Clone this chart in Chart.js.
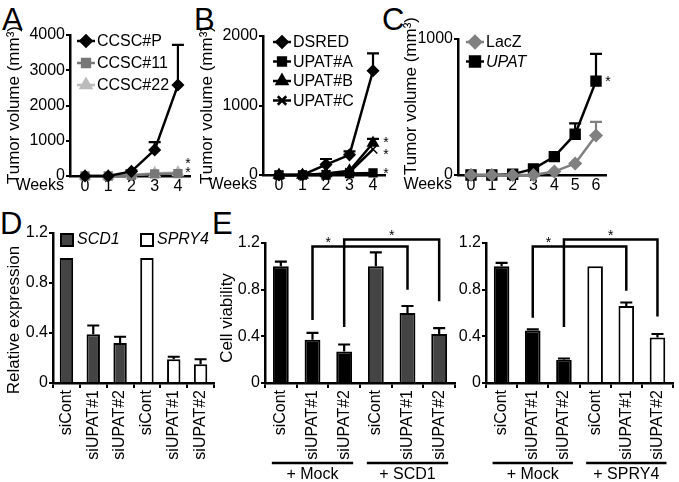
<!DOCTYPE html>
<html>
<head>
<meta charset="utf-8">
<script src="https://cdn.jsdelivr.net/npm/chart.js@4.4.0/dist/chart.umd.min.js"></script>
<style>
  body { margin: 0; background: #fff; width: 679px; height: 482px; overflow: hidden; position: relative;
         font-family: "Liberation Sans", Arial, sans-serif; }
  canvas { position: absolute; left: 0; top: 0; }
  .panel { position: absolute; font-size: 31px; line-height: 31px; color: #000; }
</style>
</head>
<body>
<div class="panel" style="left:2px;top:4px">A</div>
<div class="panel" style="left:194px;top:4px">B</div>
<div class="panel" style="left:382px;top:4px">C</div>
<div class="panel" style="left:0px;top:208px">D</div>
<div class="panel" style="left:212px;top:208px">E</div>
<canvas id="cA" width="679" height="482"></canvas>
<canvas id="cB" width="679" height="482"></canvas>
<canvas id="cC" width="679" height="482"></canvas>
<canvas id="cD" width="679" height="482"></canvas>
<canvas id="cE1" width="679" height="482"></canvas>
<canvas id="cE2" width="679" height="482"></canvas>
<script>
/* --------------- Data --------------------- */
// A: CCSC xenografts
const weeksA = [0, 1, 2, 3, 4];
const ccscP = [0, 0, 130, 740, 2580];
const ccscPErr = [0, 0, 30, 220, 1140];
const ccsc11 = [0, 0, 20, 60, 70];
const ccsc22 = [0, 0, 30, 80, 100];
// B: UPAT knockdown
const weeksB = [0, 1, 2, 3, 4];
const dsred = [0, 0, 150, 290, 1500];
const dsredErr = [0, 0, 80, 50, 250];
const upatA = [0, 0, 0, 20, 30];
const upatB = [0, 0, 20, 60, 460];
const upatBErr = [0, 0, 0, 0, 60];
const upatC = [0, 0, 10, 40, 370];
// C: UPAT overexpression
const weeksC = [0, 1, 2, 3, 4, 5, 6];
const lacZ = [0, 0, 0, 0, 25, 85, 290];
const lacZErr = [0, 0, 0, 0, 0, 0, 100];
const upat = [0, 0, 5, 45, 135, 300, 690];
const upatErr = [0, 0, 0, 0, 0, 80, 200];
// D: relative expression
const siLabels = ["siCont", "siUPAT#1", "siUPAT#2", "siCont", "siUPAT#1", "siUPAT#2"];
const scd1Expr = [1.0, 0.39, 0.32, null, null, null];
const scd1ExprErr = [0, 0.07, 0.05, 0, 0, 0];
const spry4Expr = [null, null, null, 1.0, 0.19, 0.15];
const spry4ExprErr = [0, 0, 0, 0, 0.02, 0.04];
// E: cell viability
const mockE1 = [1.0, 0.37, 0.27, null, null, null];
const mockE1Err = [0.04, 0.06, 0.06, 0, 0, 0];
const scd1Rescue = [null, null, null, 1.0, 0.60, 0.42];
const scd1RescueErr = [0, 0, 0, 0.12, 0.06, 0.05];
const mockE2 = [1.0, 0.45, 0.20, null, null, null];
const mockE2Err = [0.03, 0.01, 0.01, 0, 0, 0];
const spry4Rescue = [null, null, null, 1.0, 0.66, 0.39];
const spry4RescueErr = [0, 0, 0, 0, 0.03, 0.03];

/* --------------- Defaults --------------------- */
const FONT = '"Liberation Sans", Arial, sans-serif';
const W = 679, H = 482;
Chart.defaults.font.family = FONT;
Chart.defaults.font.size = 16;
Chart.defaults.color = "#000";
Chart.defaults.animation = false;
Chart.defaults.responsive = false;
Chart.defaults.plugins.legend.display = false;
Chart.defaults.plugins.tooltip.enabled = false;

// put the plot area exactly on box {l,t,r,b}
function frame(box, yw, xh) {
  return { padding: { left: box.l - yw, right: W - box.r, top: box.t, bottom: H - box.b - xh } };
}

function vText(ctx, txt, x, y, size) {
  ctx.save();
  ctx.translate(x, y);
  ctx.rotate(-Math.PI / 2);
  ctx.font = size + "px " + FONT;
  ctx.fillStyle = "#000";
  ctx.textAlign = "center";
  ctx.textBaseline = "middle";
  ctx.fillText(txt, 0, 0);
  ctx.restore();
}

function text(ctx, txt, x, y, size, align, style) {
  ctx.save();
  ctx.font = (style || "") + " " + size + "px " + FONT;
  ctx.fillStyle = "#000";
  ctx.textAlign = align || "left";
  ctx.textBaseline = "middle";
  ctx.fillText(txt, x, y);
  ctx.restore();
}

/* --------------- Error bars --------------------- */
const errorBars = {
  id: "errorBars",
  beforeDatasetsDraw(chart) {
    const ctx = chart.ctx;
    const ys = chart.scales.y;
    chart.data.datasets.forEach((ds, i) => {
      if (!ds.errors) return;
      chart.getDatasetMeta(i).data.forEach((el, j) => {
        let v = ds.data[j];
        const e = ds.errors[j];
        if (v == null || !e) return;
        if (typeof v === "object") v = v.y;
        const top = ys.getPixelForValue(v + e);
        const cap = ds.capHalf || 6;
        ctx.save();
        ctx.strokeStyle = ds.errColor || ds.borderColor;
        ctx.lineWidth = 2.2;
        ctx.beginPath();
        ctx.moveTo(el.x, el.y);
        ctx.lineTo(el.x, top);
        ctx.moveTo(el.x - cap, top);
        ctx.lineTo(el.x + cap, top);
        ctx.stroke();
        ctx.restore();
      });
    });
  }
};

/* --------------- Line charts (A, B, C) --------------------- */
function lineScales(xMin, xMax, ticksX, yMax, yStep) {
  return {
    x: {
      type: "linear", min: xMin, max: xMax,
      afterBuildTicks: (s) => { s.ticks = ticksX.map((v) => ({ value: v })); },
      afterFit: (s) => { s.height = 24; },
      grid: { display: false, drawTicks: false },
      border: { color: "#000", width: 2.5 },
      ticks: { padding: 1, font: { size: 16 } }
    },
    y: {
      min: 0, max: yMax,
      afterFit: (s) => { s.width = 45; },
      ticks: { stepSize: yStep, padding: 1, font: { size: 16 }, callback: (v) => String(v) },
      grid: { drawOnChartArea: false, color: "#000", lineWidth: 2, tickLength: 4 },
      border: { color: "#000", width: 2.5 }
    }
  };
}

function lineSet(label, data, color, style, radius, errors) {
  return {
    label: label, data: data, borderColor: color, backgroundColor: color,
    pointStyle: style, pointRadius: radius, pointBorderWidth: 1.5,
    borderWidth: 2.5, tension: 0, clip: false, errors: errors, capHalf: 6
  };
}

function lineDeco(opts) {
  return {
    id: "deco",
    afterDraw(chart) {
      const ctx = chart.ctx;
      const xs = chart.scales.x, ys = chart.scales.y;
      const area = chart.chartArea;
      // legend
      chart.data.datasets.forEach((ds, i) => {
        const y = opts.legY + i * opts.legStep;
        const x0 = area.left + opts.legX;
        ctx.save();
        ctx.strokeStyle = ds.borderColor;
        ctx.lineWidth = 2.5;
        ctx.beginPath();
        ctx.moveTo(x0, y);
        ctx.lineTo(x0 + 18, y);
        ctx.stroke();
        ctx.fillStyle = ds.backgroundColor;
        Chart.helpers.drawPoint(ctx, { pointStyle: ds.pointStyle, radius: ds.pointRadius, rotation: 0, borderWidth: 1.5 }, x0 + 9, y);
        ctx.restore();
        text(ctx, ds.label, x0 + 20, y + 1, 16, "left", opts.italic && opts.italic[i] ? "italic" : "");
      });
      // axis titles
      vText(ctx, "Tumor volume (mm\u00B3)", opts.titleX, opts.titleY, 17);
      text(ctx, "Weeks", area.left - 6, area.bottom + 10, 16, "right");
      // significance stars
      opts.stars.forEach(([di, pi, dx, dy]) => {
        const v = chart.data.datasets[di].data[pi].y;
        const x = xs.getPixelForValue(pi) + dx;
        const y = ys.getPixelForValue(v) + dy;
        text(ctx, "*", x, y, 14, "center");
      });
    }
  };
}

const boxA = { l: 70, t: 35, r: 190, b: 176 };
new Chart(document.getElementById("cA"), {
  type: "line",
  data: {
    labels: weeksA,
    datasets: [
      lineSet("CCSC#P", weeksA.map((w, i) => ({ x: w, y: ccscP[i] })), "#000", "rectRot", 5.5, ccscPErr),
      lineSet("CCSC#11", weeksA.map((w, i) => ({ x: w, y: ccsc11[i] })), "#777", "rect", 5.5),
      lineSet("CCSC#22", weeksA.map((w, i) => ({ x: w, y: ccsc22[i] })), "#bbb", "triangle", 6)
    ]
  },
  options: {
    layout: frame(boxA, 45, 24),
    parsing: false,
    scales: lineScales(-0.645, 4.52, weeksA, 4000, 1000)
  },
  plugins: [errorBars, lineDeco({ legX: 7, legY: 41, legStep: 22, titleX: 14, titleY: 105, stars: [[2, 4, 10, -8], [1, 4, 10, 0]] })]
});

const boxB = { l: 263, t: 36, r: 385, b: 175 };
new Chart(document.getElementById("cB"), {
  type: "line",
  data: {
    labels: weeksB,
    datasets: [
      lineSet("DSRED", weeksB.map((w, i) => ({ x: w, y: dsred[i] })), "#000", "rectRot", 5.5, dsredErr),
      lineSet("UPAT#A", weeksB.map((w, i) => ({ x: w, y: upatA[i] })), "#000", "rect", 5.5),
      lineSet("UPAT#B", weeksB.map((w, i) => ({ x: w, y: upatB[i] })), "#000", "triangle", 6, upatBErr),
      lineSet("UPAT#C", weeksB.map((w, i) => ({ x: w, y: upatC[i] })), "#000", "crossRot", 6)
    ]
  },
  options: {
    layout: frame(boxB, 45, 24),
    parsing: false,
    scales: lineScales(-0.68, 4.51, weeksB, 2000, 1000)
  },
  plugins: [errorBars, lineDeco({ legX: 10, legY: 42, legStep: 19.5, titleX: 207, titleY: 105, stars: [[2, 4, 13, 0], [3, 4, 13, 6], [1, 4, 13, 1]] })]
});

const boxC = { l: 458, t: 39, r: 606, b: 175 };
new Chart(document.getElementById("cC"), {
  type: "line",
  data: {
    labels: weeksC,
    datasets: [
      lineSet("LacZ", weeksC.map((w, i) => ({ x: w, y: lacZ[i] })), "#808080", "rectRot", 6, lacZErr),
      lineSet("UPAT", weeksC.map((w, i) => ({ x: w, y: upat[i] })), "#000", "rect", 7, upatErr)
    ]
  },
  options: {
    layout: frame(boxC, 45, 24),
    parsing: false,
    scales: lineScales(-0.624, 6.48, weeksC, 1000, 1000)
  },
  plugins: [errorBars, lineDeco({ legX: 8, legY: 42, legStep: 19.5, italic: [false, true], titleX: 411, titleY: 96, stars: [[1, 6, 12, 1]] })]
});

/* --------------- Bar charts (D, E) --------------------- */
function barScales(yMax) {
  return {
    x: {
      stacked: true,
      afterFit: (s) => { s.height = 80; },
      grid: { offset: true, drawOnChartArea: false, color: "#000", lineWidth: 2, tickLength: 5 },
      border: { color: "#000", width: 2.5 },
      ticks: { minRotation: 90, maxRotation: 90, padding: 2, font: { size: 16 } }
    },
    y: {
      min: 0, max: yMax,
      afterFit: (s) => { s.width = 40; },
      ticks: { stepSize: 0.4, padding: 1, font: { size: 16 }, callback: (v) => (v === 0 ? "0" : v.toFixed(1)) },
      grid: { drawOnChartArea: false, color: "#000", lineWidth: 2, tickLength: 4 },
      border: { color: "#000", width: 2.5 }
    }
  };
}

function barSet(label, data, fill, errors, pct) {
  return {
    label: label, data: data, backgroundColor: fill, borderColor: "#000", borderWidth: 2,
    errColor: "#000", errors: errors, capHalf: 6, categoryPercentage: 1, barPercentage: pct, skipNull: true
  };
}

const boxD = { l: 53, t: 233, r: 214, b: 383 };
new Chart(document.getElementById("cD"), {
  type: "bar",
  data: {
    labels: siLabels,
    datasets: [
      barSet("SCD1", scd1Expr, "#444", scd1ExprErr, 0.5),
      barSet("SPRY4", spry4Expr, "#fff", spry4ExprErr, 0.5)
    ]
  },
  options: { layout: frame(boxD, 40, 80), scales: barScales(1.2) },
  plugins: [errorBars, {
    id: "decoD",
    afterDraw(chart) {
      const ctx = chart.ctx, a = chart.chartArea;
      vText(ctx, "Relative expression", 14, 320, 17);
      chart.data.datasets.forEach((ds, i) => {
        const x = a.left + 8 + i * 80;
        ctx.save();
        ctx.fillStyle = ds.backgroundColor;
        ctx.strokeStyle = "#000";
        ctx.lineWidth = 2;
        ctx.fillRect(x, a.top + 1, 12, 12);
        ctx.strokeRect(x, a.top + 1, 12, 12);
        ctx.restore();
        text(ctx, ds.label, x + 16, a.top + 7, 16, "left", "italic");
      });
    }
  }]
});

function viabilityChart(id, box, sets, brackets, groups, withTitle) {
  return new Chart(document.getElementById(id), {
    type: "bar",
    data: { labels: siLabels, datasets: sets },
    options: { layout: frame(box, 40, 80), scales: barScales(1.2) },
    plugins: [errorBars, {
      id: "decoE",
      afterDraw(chart) {
        const ctx = chart.ctx, xs = chart.scales.x, ys = chart.scales.y;
        if (withTitle) vText(ctx, "Cell viability", 227, 318, 17);
        ctx.save();
        ctx.strokeStyle = "#000";
        ctx.lineWidth = 2.5;
        brackets.forEach((b) => {
          const x1 = xs.getPixelForValue(b.from), x2 = xs.getPixelForValue(b.to);
          const yt = ys.getPixelForValue(b.top);
          ctx.beginPath();
          ctx.moveTo(x1, ys.getPixelForValue(b.fromY));
          ctx.lineTo(x1, yt);
          ctx.lineTo(x2, yt);
          ctx.lineTo(x2, ys.getPixelForValue(b.toY));
          ctx.stroke();
          text(ctx, "*", xs.getPixelForValue(b.star), yt - 3, 14, "center");
        });
        groups.forEach((g) => {
          const x1 = xs.getPixelForValue(g.from) - 9, x2 = xs.getPixelForValue(g.to) + 9;
          ctx.beginPath();
          ctx.moveTo(x1, 463);
          ctx.lineTo(x2, 463);
          ctx.stroke();
          text(ctx, g.label, (x1 + x2) / 2, 475, 16, "center");
        });
        ctx.restore();
      }
    }]
  });
}

viabilityChart("cE1", { l: 265, t: 243, r: 455, b: 383 },
  [barSet("Mock", mockE1, "#000", mockE1Err, 0.5), barSet("SCD1", scd1Rescue, "#444", scd1RescueErr, 0.5)],
  [{ from: 1, to: 4, fromY: 0.54, top: 1.17, toY: 0.8, star: 1.5 },
   { from: 2, to: 5, fromY: 0.48, top: 1.23, toY: 0.7, star: 3.5 }],
  [{ from: 0, to: 2, label: "+ Mock" }, { from: 3, to: 5, label: "+ SCD1" }], true);

viabilityChart("cE2", { l: 486, t: 243, r: 675, b: 383 },
  [barSet("Mock", mockE2, "#000", mockE2Err, 0.5), barSet("SPRY4", spry4Rescue, "#fff", spry4RescueErr, 0.5)],
  [{ from: 1, to: 4, fromY: 0.56, top: 1.17, toY: 0.79, star: 1.5 },
   { from: 2, to: 5, fromY: 0.48, top: 1.23, toY: 0.57, star: 3.5 }],
  [{ from: 0, to: 2, label: "+ Mock" }, { from: 3, to: 5, label: "+ SPRY4" }], false);
</script>
</body>
</html>
